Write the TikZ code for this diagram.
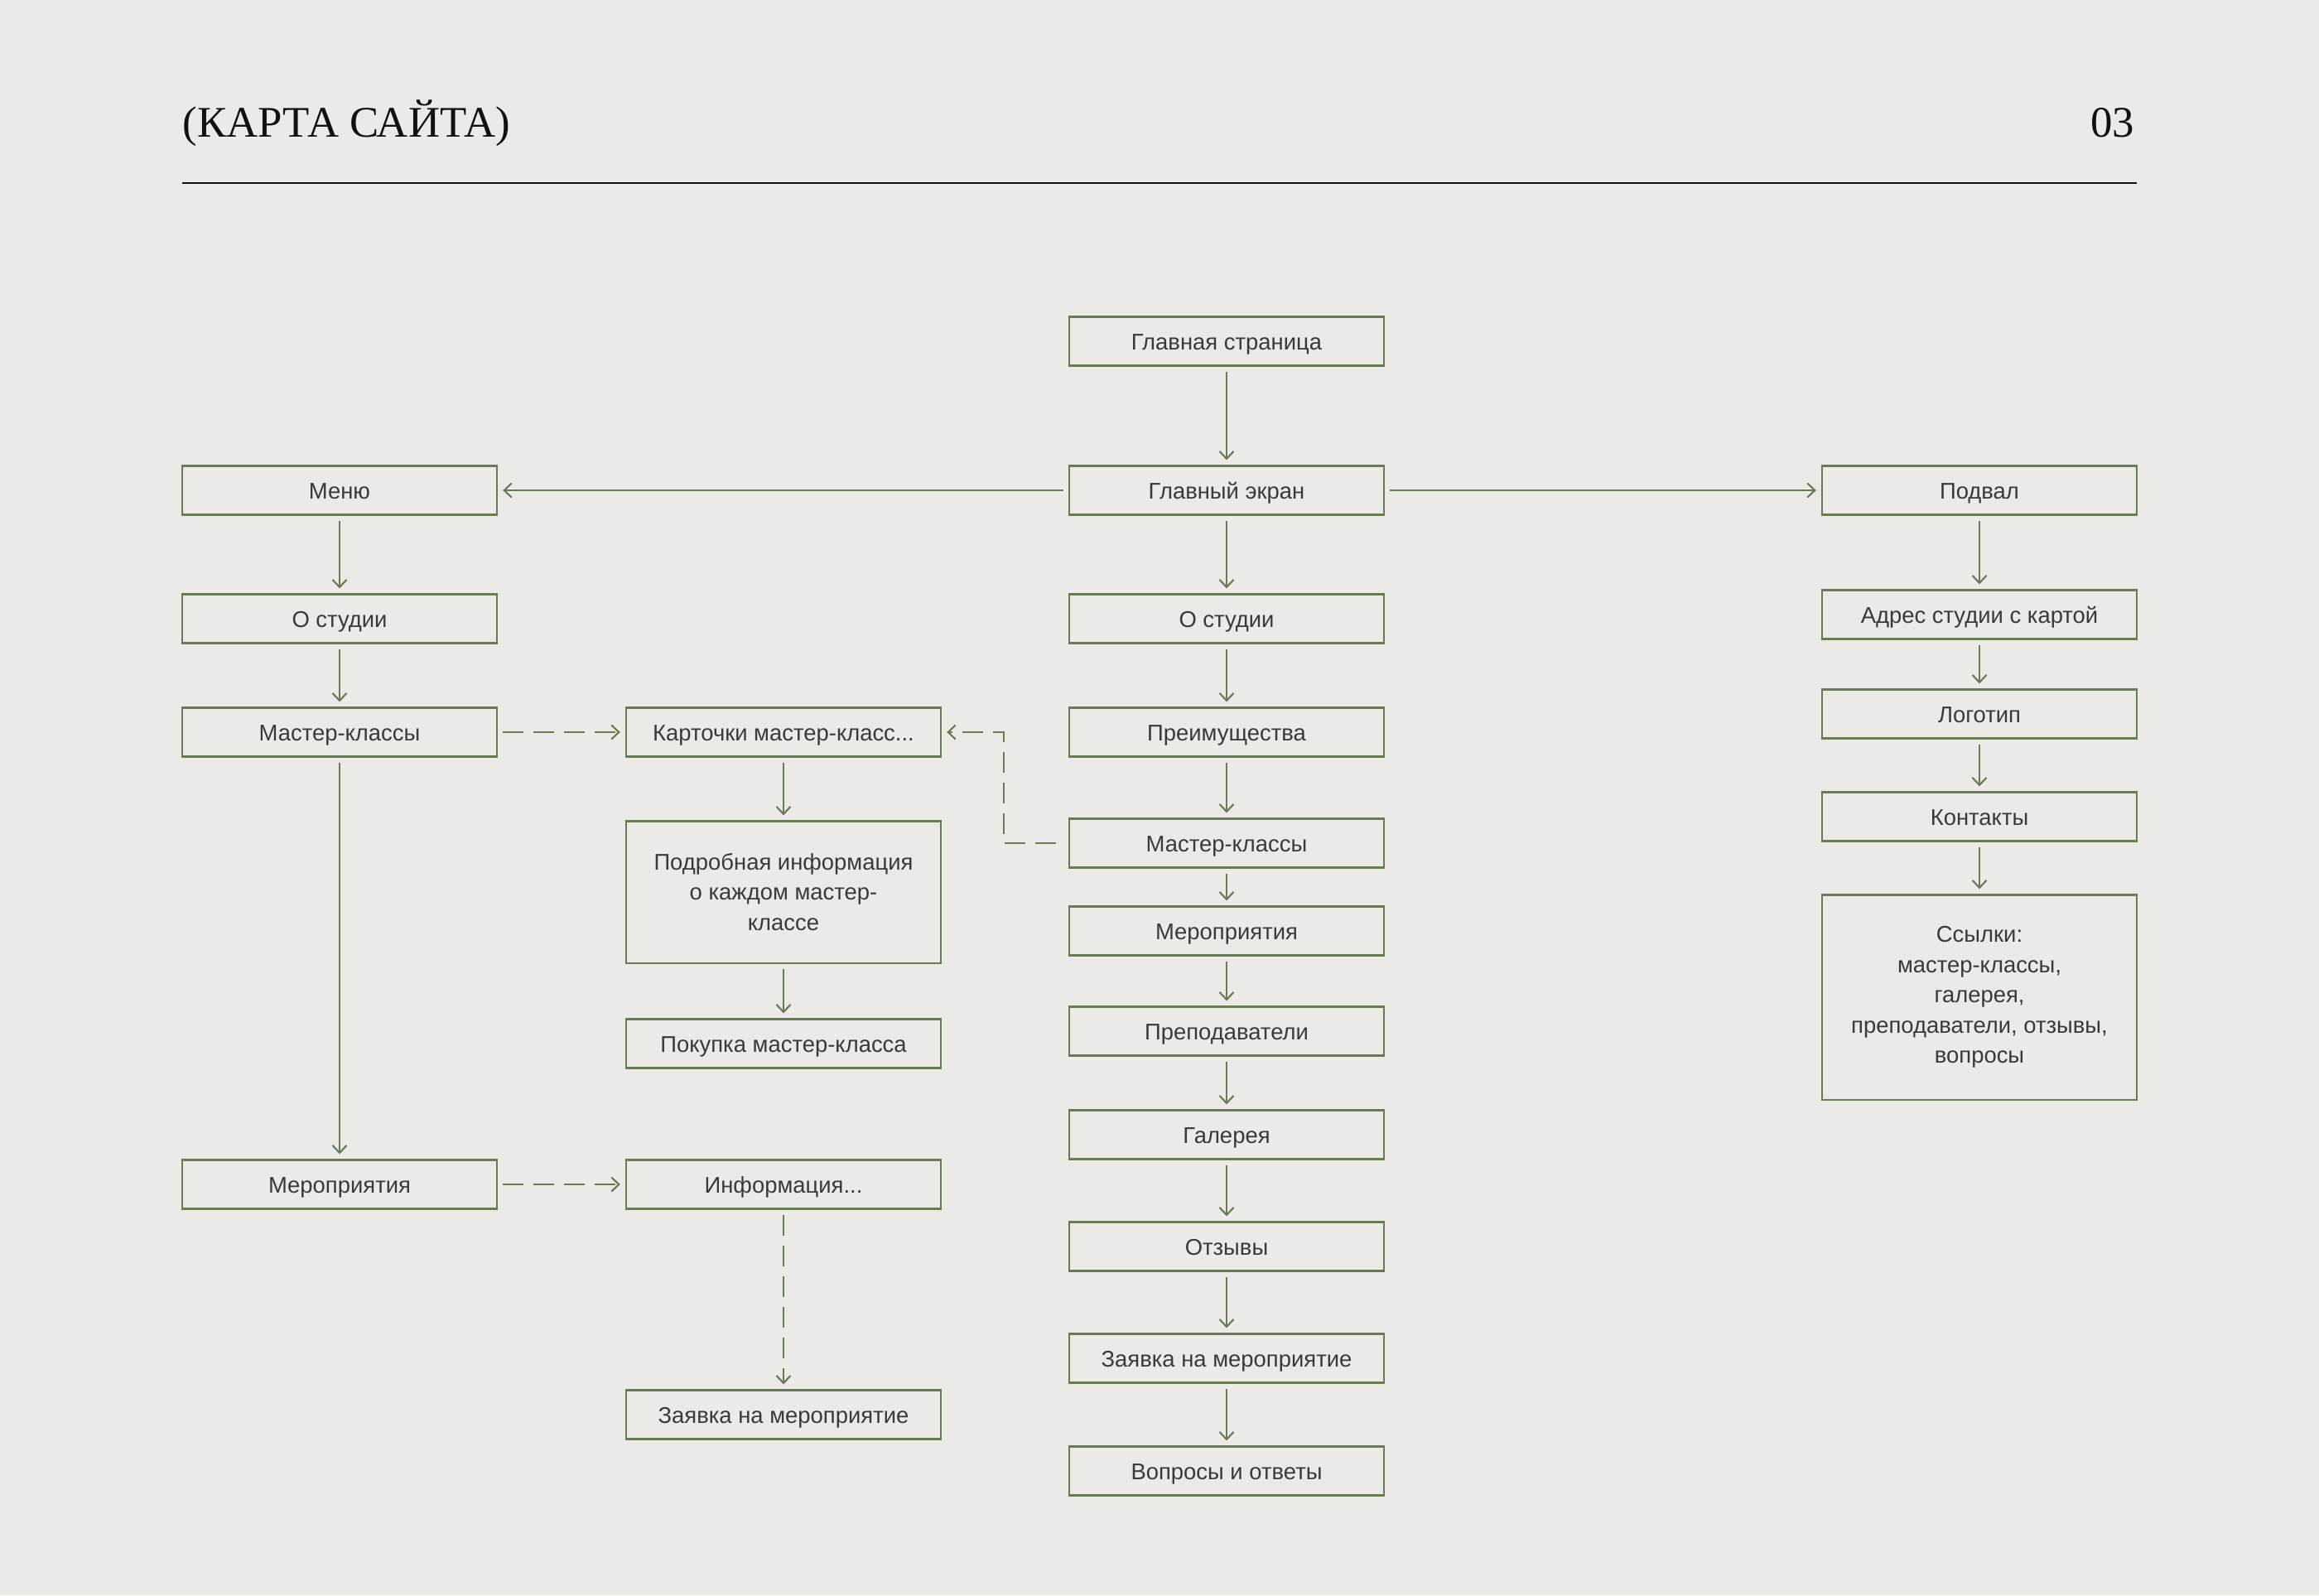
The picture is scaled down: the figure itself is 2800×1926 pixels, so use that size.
\documentclass[tikz,border=0pt]{standalone}
\usepackage{fontspec}
\setmainfont{Liberation Sans}
\newfontfamily\titlefont{Liberation Serif}
\usetikzlibrary{arrows.meta}
\definecolor{bgc}{HTML}{EBEAE7}
\definecolor{olive}{HTML}{6B7A56}
\definecolor{txt}{HTML}{3A3A3A}
\definecolor{ttl}{HTML}{111111}
\tikzset{
  mbox/.style={draw=olive, line width=0.6pt, minimum width=3.8cm, minimum height=0.59cm,
    inner sep=0pt, text=txt, font=\fontsize{7.8}{10.4}\selectfont, align=center},
  box/.style={mbox, text height=0.2cm, text depth=0cm},
  arr/.style={draw=olive, line width=0.6pt, -{Straight Barb[length=0.9mm,width=1.7mm]},
    shorten <=0.06cm, shorten >=0.06cm},
  darr/.style={arr, dash pattern=on 0.25cm off 0.12cm}
}
\begin{document}
\begin{tikzpicture}[x=0.01cm,y=-0.01cm]
\fill[bgc] (0,0) rectangle (2800,1926);
\useasboundingbox (0,0) rectangle (2800,1926);
% header
\node[anchor=base west, inner sep=0, text=ttl, font=\titlefont\fontsize{15}{18}\selectfont] (title) at (220,165) {(КАРТА САЙТА)};
\node[anchor=base east, inner sep=0, text=ttl, font=\titlefont\fontsize{15}{18}\selectfont] (num) at (2578,165) {03};
\coordinate (hl) at (220,221);
\coordinate (hr) at (2580,221);
\draw[ttl, line width=0.5pt] (hl) -- (hr);
% center column
\node[box] (gs) at (1481,412) {Главная страница};
\node[box] (ge) at (1481,592) {Главный экран};
\node[box] (cos) at (1481,747) {О студии};
\node[box] (cpr) at (1481,884) {Преимущества};
\node[box] (cmk) at (1481,1018) {Мастер-классы};
\node[box] (cme) at (1481,1124) {Мероприятия};
\node[box] (cpp) at (1481,1245) {Преподаватели};
\node[box] (cga) at (1481,1370) {Галерея};
\node[box] (cot) at (1481,1505) {Отзывы};
\node[box] (cza) at (1481,1640) {Заявка на мероприятие};
\node[box] (cvo) at (1481,1776) {Вопросы и ответы};
% left column
\node[box] (menu) at (410,592) {Меню};
\node[box] (los) at (410,747) {О студии};
\node[box] (lmk) at (410,884) {Мастер-классы};
\node[box] (lme) at (410,1430) {Мероприятия};
% middle column
\node[box] (kart) at (946,884) {Карточки мастер-класс...};
\node[mbox, minimum height=1.71cm] (podr) at (946,1077) {Подробная информация\\о каждом мастер-\\классе};
\node[box] (pok) at (946,1260) {Покупка мастер-класса};
\node[box] (inf) at (946,1430) {Информация...};
\node[box] (mza) at (946,1708) {Заявка на мероприятие};
% right column
\node[box] (podv) at (2390,592) {Подвал};
\node[box] (adr) at (2390,742) {Адрес студии с картой};
\node[box] (logo) at (2390,862) {Логотип};
\node[box] (kont) at (2390,986) {Контакты};
\node[mbox, minimum height=2.47cm] (ssyl) at (2390,1204) {Ссылки:\\мастер-классы,\\галерея,\\преподаватели, отзывы,\\вопросы};
% connectors
\draw[arr] (gs) -- (ge);
\draw[arr] (ge) -- (menu);
\draw[arr] (ge) -- (podv);
\draw[arr] (ge) -- (cos);
\draw[arr] (cos) -- (cpr);
\draw[arr] (cpr) -- (cmk);
\draw[arr] (cmk) -- (cme);
\draw[arr] (cme) -- (cpp);
\draw[arr] (cpp) -- (cga);
\draw[arr] (cga) -- (cot);
\draw[arr] (cot) -- (cza);
\draw[arr] (cza) -- (cvo);
\draw[arr] (menu) -- (los);
\draw[arr] (los) -- (lmk);
\draw[arr] (lmk) -- (lme);
\draw[arr] (kart) -- (podr);
\draw[arr] (podr) -- (pok);
\draw[darr] (lmk) -- (kart);
\draw[darr] (lme) -- (inf);
\draw[darr] (inf) -- (mza);
\coordinate (elb) at (1212,884);
\draw[darr, shorten <=0.15cm] (cmk.west) -| (elb) -- (kart.east);
\draw[arr] (podv) -- (adr);
\draw[arr] (adr) -- (logo);
\draw[arr] (logo) -- (kont);
\draw[arr] (kont) -- (ssyl);
\end{tikzpicture}
\end{document}
